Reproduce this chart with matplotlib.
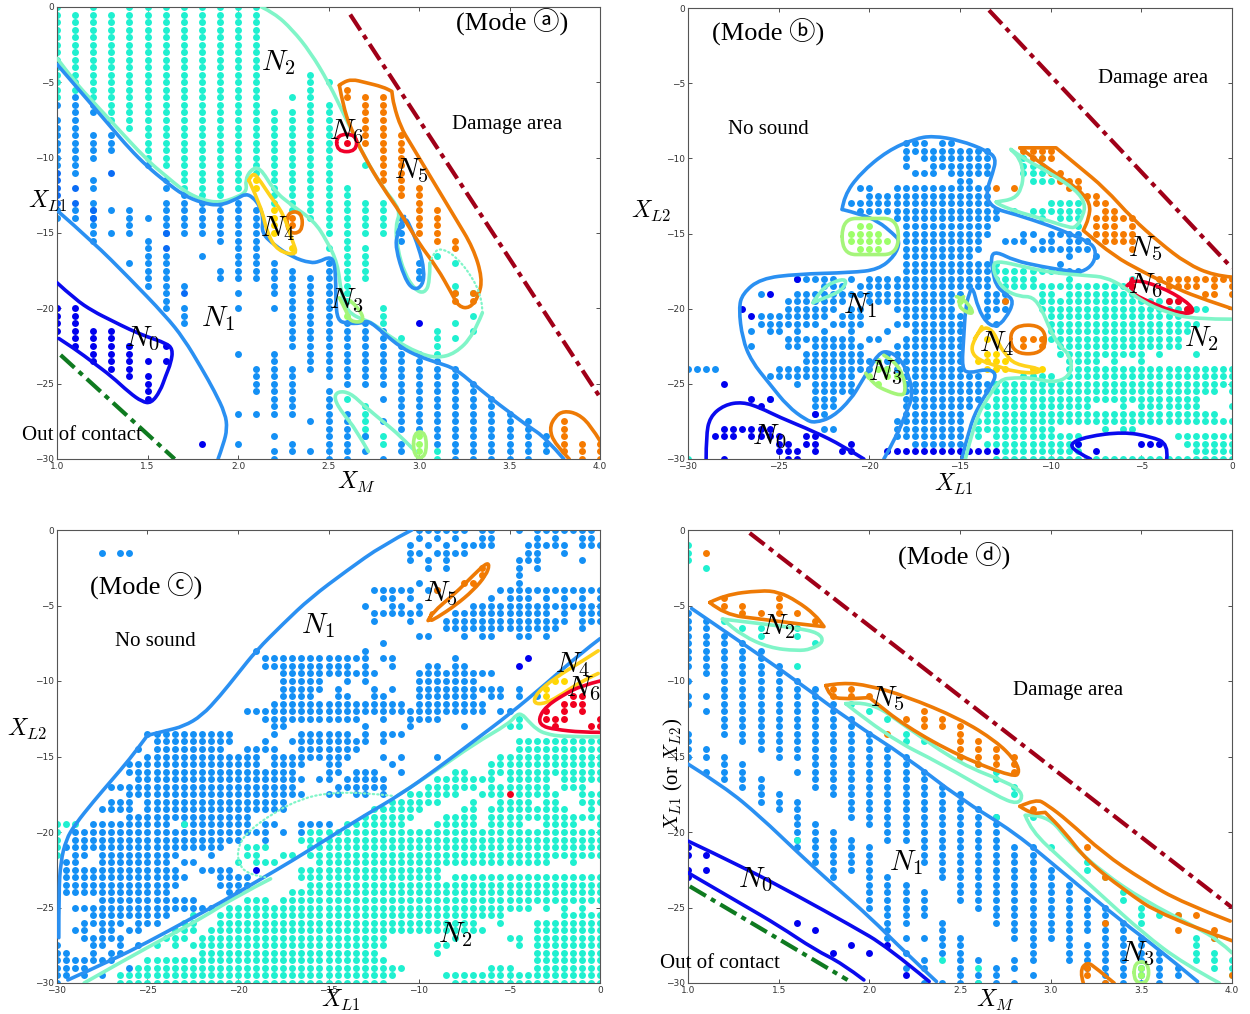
import numpy as np
import matplotlib
matplotlib.use("Agg")
import matplotlib.pyplot as plt
from matplotlib.path import Path
from matplotlib.patches import PathPatch

plt.rcParams['mathtext.fontset'] = 'cm'
SERIF = ['Liberation Serif', 'Noto Sans CJK JP', 'DejaVu Sans']

# dot colours, one per regime
N0, DEEP, N1, N2, N3, N4, N5, N6 = '#0000ee', '#0a6cf5', '#1490f5', '#1ff0d0', '#9dff6a', '#ffd800', '#f57a00', '#f0001e'
# line colours
L0, L1, L2, L3, L4, L5, L6 = '#0a0aee', '#2a90f2', '#80f5c8', '#a5f57a', '#ffd21a', '#ee7a05', '#f0002a'
DAMAGE, CONTACT = '#a00018', '#0f7a20'

# --- dots: {position: [value or (first, last) at step 0.5]} ---
# panel a, keyed by X_M
a_n2 = {1.0: [(0, -6)], 1.1: [(-0.5, -5.5)], 1.2: [(0, -6)], 1.3: [(-0.5, -7.5)], 1.4: [(0, -8)], 1.5: [(0, -10)],
        1.6: [(0, -10.5)], 1.7: [(0, -12)], 1.8: [(0, -12.5)], 1.9: [(0, -12.5)], 2.0: [(0, -12)], 2.1: [(0, -11)],
        2.2: [(-7, -13)], 2.3: [-6, (-7, -13.5)], 2.4: [(-4.5, -14)], 2.5: [-5, (-6.5, -15), -16],
        2.6: [(-12, -17.5), (-18, -19.5), -26], 2.7: [-10.5, (-13, -15), (-16, -18), (-26.5, -28.5)],
        2.8: [-13, -13.5, -14, -14.5, -15, -20, -20.5, -21, -28.5, -29],
        2.9: [-22], 3.1: [-16.5, -21.5, -22, -22.5, -23, -29.5, -30], 3.2: [-17, -18.5, -19, -21, -22], 3.3: [-19, -20.5, -21.5]}
a_n1 = {1.0: [-6.5, (-7.5, -10.5), (-13.5, -14)], 1.1: [(-6, -11), -13.5, -14],
        1.2: [-6.5, -7, (-8.5, -10), -11.5, -12, (-13, -15.5)], 1.3: [-8.5, -9, -9.5, -13.5, -15], 1.4: [-13.5, -14, -14.5, -15, -17],
        1.5: [-10.5, -14, (-15.5, -18.5)], 1.6: [-11.5, -12, (-13, -15), (-16.5, -20)], 1.7: [(-12.5, -15), -18.5, -20, -20.5, -21],
        1.8: [(-13, -15), -16.5], 1.9: [(-13, -15.5), -17.5, -18], 2.0: [(-13, -18), -19, -20, -23, -27, -29],
        2.1: [(-13.5, -18), (-24, -25.5), -27], 2.2: [(-17, -19), -20, (-23, -27), -28.5, -29.5, -30],
        2.3: [-17.5, (-18, -22.5), (-24, -27), -29, -29.5], 2.4: [-18, -18.5, -19, (-19.5, -24), -27.5, -29.5],
        2.5: [(-17, -24.5), (-25.5, -30)], 2.6: [(-21, -25), (-27, -30)], 2.7: [(-21, -25), -28.5, -29.5],
        2.8: [(-21.5, -25), -26, -27.5, -30], 2.9: [(-14, -15.5), (-22.5, -28), -29, -29.5], 3.0: [(-17, -18), (-23, -28), -30],
        3.1: [(-23.5, -29)], 3.2: [(-24, -30)], 3.3: [(-25, -30)], 3.4: [(-26, -30)], 3.5: [(-27, -30)], 3.6: [(-27.5, -30)], 3.7: [(-28.5, -29.5)]}
a_deep = {1.0: [(-11, -13)], 1.1: [-12, -13], 1.2: [-13.5, -14], 1.3: [-11], 1.4: [-22.5], 1.6: [-15, -16], 1.7: [-19]}
a_n0 = {1.0: [(-20, -21.5)], 1.1: [(-20, -22.5)], 1.2: [(-21.5, -23.5)], 1.3: [(-21.5, -24)], 1.4: [(-22.5, -24.5)],
        1.5: [-23.5, -24.5, -25, -25.5, -26], 1.6: [-22.5, -23.5], 1.8: [-29], 3.0: [-21]}
a_n3 = {2.6: [-20.5], 3.0: [-28.5, -29, -29.5, -30]}
a_n4 = {2.1: [-11.5, -12], 2.2: [-13.5, -14, -14.5, -15], 2.3: [-16]}
a_n5 = {2.6: [-5.5, -6], 2.7: [(-6, -8.5), -9], 2.8: [(-6, -8), (-8.5, -11.5)], 2.9: [(-8.5, -12.5)], 3.0: [(-12, -15)],
        3.1: [(-13.5, -15.5)], 3.2: [-15.5, -16, -19, -19.5], 3.3: [-19, -19.5], 2.3: [-14, -14.5],
        3.8: [-27.5, -28, -28.5, -29, -29.5], 3.9: [-29, -29.5, -30], 4.0: [-29, -29.5, -30]}
a_n6 = {2.6: [-9]}

# panel b, keyed by X_L2
b_n1 = {-9: [-18, -17.5, -17, -16, -15.5], -9.5: [(-18, -13.5)], -10: [-18, (-17, -13.5)], -10.5: [-18, (-16.5, -13.5)],
        -11: [-17.5, -17, -16.5, (-15.5, -13.5)], -11.5: [-15, -14.5], -12: [-20.5, -20, (-18.5, -13.5)], -12.5: [(-20, -13.5)],
        -13: [(-21, -13.5)], -13.5: [(-20.5, -13)], -14: [(-18.5, -13)], -14.5: [(-18, -13.5)],
        -15: [(-18, -13.5), -11.5, -11, -10, -9.5, -9, -8.5], -15.5: [(-18, -14), -12.5, -12, -11.5, -10.5, -10, -9, -8.5, -8],
        -16: [(-18, -14), -11, -10.5, (-10, -8)], -16.5: [(-18, -14.5), -9, -7.5], -17: [(-18, -13.5), -9.5],
        -17.5: [(-18, -13.5), -9.5, -9, -8.5], -18: [-24, -23.5, -23, -22.5, -22, -21, (-20, -13.5)],
        -18.5: [-22.5, -22, -21.5, (-20.5, -13.5)], -19: [-26, -24, -23.5, (-23, -21), (-20.5, -15), (-13.5, -12.5)],
        -19.5: [(-24.5, -21.5), (-20, -15.5), -13.5, -13, -12.5], -20: [-24.5, (-24, -22), (-21, -20.5), (-18.5, -15.5), -13.5, -13, -12.5],
        -20.5: [-26, (-25.5, -22.5), (-21.5, -20.5), (-18, -15), -13.5],
        -21: [(-26, -23), (-22, -20.5), (-18.5, -15), -13], -21.5: [-26.5, -25.5, -25, -24, -22.5, -21, -19, (-17.5, -15)],
        -22: [(-24.5, -23.5), -23, (-22.5, -21), -20, -19.5, (-18, -15)], -22.5: [-26.5, -24.5, -24, (-23, -20.5), (-18.5, -15)],
        -23: [(-23.5, -20.5), (-19, -15)], -23.5: [(-23.5, -20), -19, (-18.5, -15)],
        -24: [-30, -29.5, -29, -28.5, -25, -24.5, (-24, -21), (-20.5, -20), -19, (-18.5, -15)],
        -24.5: [-25.5, -25, -24.5, (-24, -21.5), -21, (-18, -14)], -25: [-24, -23, (-22.5, -21), (-18, -13.5)],
        -25.5: [(-23, -21.5), -21, (-18, -13.5)], -26: [-25.5, (-23, -22), (-18, -14)], -26.5: [(-23, -22), (-18, -14.5)],
        -27: [-23, -22.5, (-18, -15)], -27.5: [(-18.5, -15)], -28: [-22.5, -22, (-18.5, -15)], -28.5: [(-18.5, -15)],
        -29: [-17.5, -17, -16.5, (-16, -15)]}
b_n2 = {-10: [-11.5, -10.5], -10.5: [-11.5, -11, -10.5], -11: [-11.5, -11, -10.5], -11.5: [-11, -10.5, -10],
        -13: [-10, -9.5, -9, -8.5], -13.5: [-12, (-11, -8.5)], -14: [-10.5, -9.5, -9, -8.5], -14.5: [-8.5],
        -17: [-13], -17.5: [(-13, -9.5)], -18: [(-13, -11), -9, -5.5], -18.5: [-12.5, -12, -11.5, (-11, -6)],
        -19: [-10.5, -10, (-9, -5.5)], -19.5: [(-10.5, -3)], -20: [(-10.5, -1.5)], -20.5: [(-10, -3)], -21: [(-10, -2)],
        -21.5: [(-10, -2.5)], -22: [(-10, -3)], -22.5: [(-9.5, -3)], -23: [(-9.5, -5), -4, -2],
        -23.5: [(-9, -8), -7.5, -6.5, -5], -24: [(-9, 0)], -24.5: [(-11.5, -10), (-9, 0)], -25: [(-13, 0)],
        -25.5: [(-13, -1), 0], -26: [(-13, -2)], -26.5: [(-13.5, -8), -6, (-5, -2), 0], -27: [(-13.5, -9), (-8.5, -6), (-5.5, -1)],
        -27.5: [(-14, -3), (-2.5, 0)], -28: [(-14, -10), -7, -6, -5.5], -28.5: [-14, -13, (-12.5, -8.5), (-3, 0)],
        -29: [-13.5, -13, (-12.5, -8.5), -2.5, (-2, 0)], -29.5: [(-12.5, -8.5), -2, (-1.5, 0)], -30: [-30, (-13, -8), (-7.5, 0)]}
b_n0 = {-18: [-24], -19: [-25.5], -20: [-27], -20.5: [-26.5], -25: [-28], -26: [-26.5, -25.5], -26.5: [-26], -27: [-23],
        -28: [(-28, -25.5)], -28.5: [(-28.5, -27.5), (-26.5, -25), -23.5, -23], -29: [-25, -24.5, -23.5, -23, -21, -8.5, -5, -4.5, -4],
        -29.5: [(-25, -24), -23, -21.5, -21, -7.5, (-19, -13)], -30: [-28, -24.5, -24]}
b_n3 = {-14.5: [-20.5, -20], -15: [-21, (-20.5, -19.5)], -15.5: [(-21, -19)], -16: [-20.5, -20, -19.5], -19.5: [-15], -20: [-14.5],
        -23.5: [-19.5], -24: [-19.5, -19], -24.5: [-20, -19, -18.5], -25: [-19.5]}
b_n4 = {-22: [-13.5], -23: [-13.5, -13], -23.5: [(-14, -12.5)], -24: [-13.5, -13, -12.5, -11, -10.5]}
b_n5 = {-9.5: [-11.5, -11, -10.5, -10], -10: [-11, -10.5, -10], -11: [-10, -9.5], -11.5: [-9.5, -9, -8.5],
        -12: [-13, -12, -9, -8.5], -12.5: [-8, -7.5], -13: [-7.5, -7], -13.5: [-7, -6.5], -14: [-7.5, -7, -6.5, -6, -5.5],
        -14.5: [-7.5, -7, -6.5, -5.5], -15: [(-7.5, -5.5)], -15.5: [-7, -6.5, -6, -5.5], -16: [-5.5], -18: [(-4, 0)],
        -18.5: [-3.5, -3, -2.5, -2, -1, 0], -19: [-1.5, -1, 0], -19.5: [-12.5], -22: [-11.5, -11, -10.5], -22.5: [-11.5, -10.5]}
b_n6 = {-18.5: [-5.5], -19.5: [-3.5, -3], -20: [-2.5]}

# panel c, keyed by X_L2
c_n1 = {0: [(-10, -8), -7.5, -6.5, -6, -4.5, (-3.5, -1), -0.5], -0.5: [-10, -9, -8, -6.5, -6, -3.5, -2.5, -1, -0.5],
        -1: [-10.5, -9.5, -8.5, -7.5, -7, -6.5, -6, -4, -3.5, -3, -2.5, -2, -1, -0.5, 0],
        -1.5: [-27.5, -26.5, -26, -10.5, -10, -9, -8.5, -8, -7.5, -4, -3.5, -2], -2: [-10.5, -9.5, -8.5, -4.5, -4, -3.5, -1],
        -2.5: [-9.5, -8.5, -4.5, -3.5], -3: [-4.5], -3.5: [-10, -4.5], -4: [(-12.5, -10.5), -9.5, -9, (-5.5, 0)],
        -4.5: [-12, -11.5, -10.5, -6, -5, -4.5, -4, -3, -2, -1, 0], -5: [-13, -11.5, -11, -10, (-7, -0.5), 0],
        -5.5: [(-12.5, -10), (-8, -6.5), (-6, -3), -2, -1, -0.5, 0], -6: [-12.5, -10.5, (-8.5, -7), (-6.5, -2), -1, -0.5, 0],
        -6.5: [-8.5, -8, -7.5, (-7, -5), (-4.5, -3), -2.5, -1], -7: [-10, -9.5, -7.5, -6.5, -6, -4.5, -4, -3], -7.5: [-12],
        -8: [-19, -13], -8.5: [(-18.5, -13.5), -13, -12, -11.5, -8], -9: [-18.5, -18, (-17.5, -14), -13, -11.5, -9.5, -9, -8, -7.5],
        -9.5: [(-17.5, -13), -12.5, (-10, -6)], -10: [(-17.5, -15.5), -14, -13, (-10, -7)], -10.5: [(-17.5, -15.5), -14.5, -12.5, -11.5, (-10, -7), -6.5, -6, -5.5, -4.5],
        -11: [(-17.5, -16), -14.5, -14, -12.5, -12, (-10, -7), -6, -5.5, -4.5, -3.5], -11.5: [-18, -17.5, (-17, -13), (-12.5, -11), (-10, -7), -6.5],
        -12: [-19.5, -19, (-18.5, -13), (-12.5, -11), (-10.5, -6.5), -5.5, -5], -12.5: [-18.5, (-18, -15), (-14.5, -13.5), -12, -10.5, (-10, -9)],
        -13: [-18, -17.5, -13, -10.5, -7.5], -13.5: [(-25, -20.5), -18, (-16.5, -14), -13, -12, -11.5, -11],
        -14: [(-24.5, -20.5), -18.5, (-17, -13), -12], -14.5: [-25.5, (-24.5, -21), (-19.5, -18), (-16.5, -13.5)],
        -15: [(-25, -19), (-18, -14), -12, -11, -9], -15.5: [(-26, -19), (-18, -16.5), -15, -14.5, -11.5],
        -16: [(-26, -17), -15, -14.5, (-13.5, -12.5), -11], -16.5: [(-25.5, -16.5), -15.5, -15, (-14, -12)],
        -17: [(-27, -26.5), (-26, -17), (-14.5, -13), -12.5, -12], -17.5: [-26, (-25.5, -16.5), (-15, -14.5), -13.5, -13, -12],
        -18: [(-27, -26), (-25, -17.5)], -18.5: [(-27.5, -26), (-25, -17.5)], -19: [-26, (-25.5, -19.5)],
        -19.5: [(-28, -24), (-23, -19.5), -18.5, -18, -16.5, -16, -15.5, -15], -20: [(-29, -18.5), -17.5, -16.5],
        -20.5: [(-29, -20), -18.5], -21: [-29.5, (-29, -21)], -21.5: [-29, -28.5, (-27.5, -23.5), -21.5], -22: [-29.5, -29, (-27.5, -24), -23, -22.5],
        -22.5: [(-29.5, -23.5), -22, -21.5, -21, -20.5], -23: [(-29.5, -23), -21, -20.5, -20, -19.5],
        -23.5: [(-29.5, -23.5), -21, -20.5, -20, -19.5], -24: [(-29.5, -24), -20.5, -20], -24.5: [(-27.5, -22.5)],
        -25: [-29, -28.5, (-28, -21.5)], -25.5: [(-28, -24)], -26: [(-28.5, -26.5), -25.5, -25, -24.5], -26.5: [-29, -28.5, -27.5, -27, -26, -25.5],
        -27: [(-28.5, -26.5)], -27.5: [-30, -28, -27.5, -26.5, -25.5], -28: [-30, -29.5, -28, -27, -26.5], -28.5: [(-30, -27)],
        -29: [(-30, -28.5), -26], -29.5: [-30, -29.5, -28.5, -27.5], -30: [-30]}
c_n2 = {-12.5: [-4.5], -13: [-5, -4.5], -14: [(-4.5, 0)], -14.5: [(-4.5, 0)], -15: [-5.5, -5, (-4.5, 0)], -15.5: [(-6, -3), (-2.5, 0)],
        -16: [-8, -7.5, (-6, -3.5), (-3, -1), -0.5, 0], -16.5: [(-9, -7), -6.5, -6, (-5, -3), (-2, 0)],
        -17: [(-9.5, -8), -7.5, -7, (-6, -3), -2, -1.5, -1], -17.5: [(-10.5, -8), (-6.5, -5.5), (-4.5, -2.5), -1, -0.5, 0],
        -18: [(-11.5, -9), -7, (-5.5, -4), -3, -2.5, (-1, 0)], -18.5: [(-12.5, -10), -7.5, -7, (-6, -2), -0.5],
        -19: [(-13, -10.5), (-8.5, -7), (-6, -3), (-2.5, -1), -0.5, 0], -19.5: [-30, -29.5, -29, -23, (-14, -11), (-9, -7), (-6, -4.5), (-3, -1.5), 0],
        -20: [-30, (-16, 0)], -20.5: [-30, (-16.5, 0)], -21: [-30, -19.5, -19, -18.5, (-16, 0)], -21.5: [-30, -19.5, -19, -17.5, -17, (-16, 0)],
        -22: [-20, -19, -18.5, -18, (-15.5, -3.5), -3, -1.5], -22.5: [(-16.5, -9)], -23: [(-16.5, -9), (-8, 0)], -23.5: [(-16, 0)],
        -24: [(-17, 0)], -24.5: [-19.5, -19, -18.5, (-17.5, 0)], -25: [(-20.5, -4), -3, -2, -1], -25.5: [-22.5, (-21, -5.5), (-2, 0)],
        -26: [-23, -22.5, (-21, -7), -5.5, (-3.5, 0)], -26.5: [-23.5, -23, -22.5, (-21.5, -6.5), (-3.5, 0)], -27: [(-24, -23), (-22, -12), -8, -5, -4.5, (-3.5, 0)],
        -27.5: [-24.5, -23.5, -22.5, (-22, -12), -9, -8.5, -4.5, (-3.5, 0)], -28: [(-22, -12.5), -9, (-3.5, 0)], -28.5: [(-25, -12), (-3.5, 0)],
        -29: [(-25.5, -11), (-6, -5), (-3.5, 0)], -29.5: [(-26.5, -11.5), (-8.5, 0)], -30: [(-26.5, -12), (-8, -3), (-2.5, 0)]}
c_n0 = {-9: [-4.5], -8.5: [-4], -22.5: [-19]}
c_n4 = {-10: [-2.5, -2], -10.5: [-3], -11: [-3]}
c_n5 = {-2.5: [-6.5], -3: [-6.5], -3.5: [-7.5, -7], -4: [-9]}
c_n6 = {-11: [-1.5, -1], -11.5: [-2, -1.5, -1], -12: [-3, -2, -1], -12.5: [-3, -2.5, -2, 0], -13: [-2.5, -0.5, 0], -17.5: [-5]}

# panel d, keyed by X_M
d_n1 = {1.0: [(-5.5, -9), -10, -11, -11.5, (-13.5, -15)], 1.1: [(-6, -9.5), -11, -12, -14.5, -15, -16],
        1.2: [(-7, -13.5), (-15, -16.5)], 1.3: [(-7.5, -14), (-15.5, -17)], 1.4: [(-8, -14.5), (-16.5, -18)],
        1.5: [(-9, -15), -17.5, -18, -18.5], 1.6: [(-10, -15), -16, (-18, -21)], 1.7: [(-10.5, -17), (-19.5, -22)],
        1.8: [(-11.5, -17.5), (-20, -23)], 1.9: [(-12.5, -19), (-20.5, -22.5)], 2.0: [(-13.5, -19.5), (-21, -25)],
        2.1: [(-14.5, -20.5), (-23, -27)], 2.2: [(-15, -20.5), (-23.5, -26), -27, -28, -29], 2.3: [(-16, -22), (-24, -25.5), -27, -28.5, -29, -30],
        2.4: [(-17, -23), (-26, -28), -30], 2.5: [(-17.5, -24.5), (-27, -30)], 2.6: [(-18.5, -25), -28.5, -29.5, -30],
        2.7: [(-19, -26), -29, -29.5, -30], 2.8: [(-21, -27), -28.5, -29, -30], 2.9: [(-21, -28.5), -29.5], 3.0: [(-22.5, -27)],
        3.1: [(-23.5, -28.5)], 3.2: [(-24.5, -26.5), (-27.5, -29)], 3.3: [(-25, -30)], 3.4: [(-26, -30)], 3.5: [(-27, -30)],
        3.6: [(-28, -30)], 3.7: [-29, -29.5]}
d_n0 = {1.0: [-21, -21.5, -22.5, -23], 1.1: [-21.5, -22.5], 1.6: [-26], 1.7: [-26.5], 1.8: [-28], 1.9: [-27.5], 2.0: [-28], 2.1: [-27.5], 2.2: [-29.5]}
d_n2 = {1.0: [-1, -1.5, -2], 1.1: [-2.5], 1.2: [-6], 1.3: [-6.5], 1.4: [-6.5, -7], 1.6: [-6.5, -7, -9, -20.5], 1.7: [-7.5], 1.9: [-11.5],
        2.0: [-12], 2.1: [-12.5], 2.2: [-13.5, -14], 2.3: [-14], 2.4: [-28.5], 2.5: [-15], 2.6: [-15.5, -29, -30], 2.7: [-16, -16.5, -19], 2.8: [-17, -17.5],
        2.9: [-19], 3.0: [-21], 3.2: [-22, -22.5], 3.3: [-23], 3.4: [-24, -24.5], 3.5: [-25, -25.5, -26], 3.6: [-25.5], 3.7: [-25.5], 3.8: [(-27, -28.5)],
        3.9: [-27, -28, -28.5, -29], 4.0: [-28.5, -29, -29.5]}
d_n3 = {3.5: [-29, -29.5]}
d_n5 = {1.1: [-1.5], 1.2: [-4.5, -5], 1.3: [-5, -5.5], 1.4: [-5.5], 1.5: [-4.5, -5, -5.5], 1.6: [-5.5], 1.7: [-6],
        1.8: [-10.5, -11], 1.9: [-10.5, -11], 2.0: [-11], 2.1: [-13.5], 2.2: [-12.5], 2.3: [-12, -12.5, -13], 2.4: [-12.5, -13],
        2.5: [-13, -13.5, -14, -14.5, -15], 2.6: [-14, -14.5, -15, -15.5], 2.7: [-14.5, -15, -15.5], 2.8: [-15, -15.5, -16],
        2.9: [-18.5], 3.2: [-21, -29, -29.5], 3.3: [-23, -26, -30], 3.7: [-25.5, -26.5], 3.8: [-25.5], 3.9: [-26.5, -27], 4.0: [-29.5]}

a_curves = [
    (L2, [1.0, 1.1, 1.2, 1.3, 1.5, 1.6, 1.7, 1.8, 1.9, 2.0, 2.05, 2.04, 2.07, 2.12, 2.2, 2.29, 2.42, 2.49, 2.55, 2.57, 2.6, 2.63, 2.68, 2.75, 2.85, 3.0, 3.1, 3.2, 3.3, 3.35],
     [-3.4, -5, -6.3, -7.6, -10.2, -11.2, -12.2, -12.8, -13, -12.6, -12.2, -11.5, -10.8, -10.6, -12.2, -13.1, -14.2, -15.5, -17, -19, -20, -20.4, -20.7, -21, -22, -23, -23.3, -23, -21.8, -20.3]),
    (L2, [2.13, 2.2, 2.3, 2.4, 2.5, 2.6, 2.7, 2.8, 2.9, 2.87, 2.88, 2.92, 2.98, 3.03, 3.06, 3.06],
     [0, -0.4, -1.5, -3, -5, -7.5, -10, -12, -13.5, -14.5, -16, -17.7, -18.8, -19, -18.3, -17]),
    (L2, [2.72, 2.65, 2.58, 2.53, 2.55, 2.62, 2.7, 2.8, 2.9, 2.98], [-29.5, -28, -27, -26, -25.5, -25.6, -26.5, -27.5, -28.5, -29.5]),
    (L1, [1.0, 1.1, 1.2, 1.3, 1.4, 1.5, 1.6, 1.7, 1.8, 1.9, 2.0, 2.04, 2.08, 2.12, 2.14, 2.13, 2.2, 2.3, 2.4, 2.45, 2.5, 2.53, 2.54, 2.54, 2.55, 2.6, 2.68, 2.72, 2.8, 2.9, 3.0, 3.1, 3.2, 3.3, 3.4, 3.5, 3.6, 3.7, 3.8],
     [-3.8, -5.2, -6.6, -8, -9.4, -10.6, -11.6, -12.5, -13, -13.2, -12.7, -12.4, -12.6, -13.2, -14, -15, -15.8, -16.6, -17, -16.9, -16.6, -16.8, -18, -19.5, -20.8, -21, -21, -20.8, -21.6, -22.6, -23.2, -23.6, -24, -25, -26, -26.9, -27.8, -28.6, -30]),
    (L1, [1.0, 1.2, 1.4, 1.6, 1.7, 1.8, 1.87, 1.93, 1.94, 1.92, 1.89], [-13.5, -15.6, -18, -20.5, -22, -24, -25.5, -27, -28, -29, -30]),
    (L1, [2.88, 2.92, 2.95, 3.0, 3.03, 3.02, 2.97, 2.92, 2.87, 2.88, 2.92], [-15, -13.9, -14.5, -16, -17.5, -18.5, -18.8, -18, -16, -15, -13.9]),
    (L0, [1.0, 1.1, 1.2, 1.3, 1.4, 1.5, 1.6, 1.64, 1.63, 1.6, 1.57, 1.52, 1.47, 1.4, 1.3, 1.2, 1.1, 1.01],
     [-18.3, -19.4, -20.2, -20.8, -21.4, -21.9, -22.3, -22.7, -23.6, -24.5, -25.5, -26.3, -26.2, -25.6, -24.5, -23.6, -22.7, -22]),
    (L5, [2.56, 2.58, 2.63, 2.7, 2.8, 2.85, 2.85, 2.86, 2.9, 2.95, 3.0, 3.1, 3.2, 3.3, 3.35, 3.33, 3.28, 3.22, 3.18, 3.1, 3.0, 2.9, 2.8, 2.7, 2.62, 2.58, 2.56],
     [-5.2, -5, -4.8, -5, -5.3, -5.6, -5.6, -6.5, -8, -9, -10, -12, -14, -16, -18, -19.2, -20, -19.9, -19, -17.3, -15.7, -13.7, -12, -10, -8, -6.5, -5.2]),
    (L5, [4.0, 3.95, 3.88, 3.8, 3.75, 3.72, 3.75, 3.83], [-28.8, -27.8, -27, -26.8, -27.2, -28, -29, -30]),
    (L5, [2.27, 2.27, 2.355, 2.355, 2.27, 2.27], [-14.3, -13.6, -13.6, -15, -15, -14.3]),
    (L6, [2.545, 2.545, 2.655, 2.655, 2.545, 2.545], [-9, -8.45, -8.45, -9.6, -9.6, -9]),
    (L4, [2.06, 2.13, 2.16, 2.22, 2.33, 2.3, 2.25, 2.18, 2.11, 2.08, 2.06], [-11.5, -13.3, -15, -16.2, -16.5, -15.5, -13.7, -12.6, -11.3, -11, -11.5]),
    (L3, [2.56, 2.6, 2.62, 2.7, 2.67, 2.62], [-19.3, -20.2, -20.9, -20.9, -20, -19.5]),
    (L3, [2.97, 2.97, 3.04, 3.04, 2.97, 2.97], [-29, -28.2, -28.2, -29.9, -29.9, -29]),
]
a_dotted = ([3.06, 3.08, 3.12, 3.2, 3.3, 3.35, 3.35], [-17, -16.3, -16, -16.5, -18, -19.5, -20.3])
a_damage = ([2.62, 4.0], [-0.5, -25.9])
a_contact = ([1.02, 1.65], [-23.1, -30])

b_curves = [
    (L1, [-21.5, -21.4, -20.5, -19, -17.5, -16.5, -15, -13.5, -13, -13.2, -13.5, -13.5, -13, -12, -10, -9, -8, -7.5, -7.6, -8.3, -9, -10.5, -12, -13, -13.3, -13.2, -13, -12.5, -12, -12.5, -13, -13.5, -14, -14.3, -14.5, -14.7, -14.8, -14.9, -14.5, -13.5, -13, -13.2, -14, -14.5, -14.9],
     [-13.4, -12.5, -11, -9.5, -8.7, -8.5, -8.8, -9.5, -10, -11, -12, -12.8, -13.4, -13.7, -14.5, -15, -15.5, -16, -17, -17.6, -17.5, -17.2, -16.8, -16.2, -16.5, -17.5, -18.5, -19, -19.5, -20.7, -21.2, -21, -20, -18.5, -19, -20, -22, -24, -24.3, -24, -24.3, -25, -26.5, -28, -30]),
    (L1, [-21.5, -20.5, -19.5, -18.7, -18.3, -18.6, -19.5, -21, -24, -26, -27, -27.2, -27, -26.5, -25.5, -24.5, -23.5, -23, -22, -21, -20.5, -20, -19.5, -19, -18.3, -17.8, -17.6, -18, -18.5, -19.2],
     [-13.4, -13.7, -14.2, -15, -15.5, -16.5, -17.4, -17.6, -17.7, -18, -19, -20, -22, -23.5, -25, -26.5, -27.4, -27.6, -27.2, -26, -25, -24, -23, -22.8, -23.3, -24.5, -25.8, -27, -28.5, -30]),
    (L0, [-29, -29, -28.8, -28, -27, -26, -25, -23, -21.5, -20.3], [-30, -28.5, -27.2, -26.4, -26.2, -26.6, -27.2, -28.2, -29.1, -30]),
    (L0, [-7.8, -8.5, -9, -8, -6, -4.5, -3.5, -3.6], [-30, -29.6, -29, -28.5, -28.2, -28.5, -29, -30]),
    (L5, [-11.7, -9.7, -9.7, -8.5, -7, -5.5, -4, -2.5, -1, 0], [-9.3, -9.3, -9.3, -10.5, -12, -14, -15.6, -17, -17.8, -17.9]),
    (L5, [0, -1.5, -3, -5, -6.5, -8.2, -8.2, -7.9, -7.8, -8.5, -10, -11.7], [-20, -19.4, -18.7, -17.5, -16.5, -14.8, -14.8, -14, -13, -12, -10.8, -9.3]),
    (L6, [-5.8, -5.5, -4, -2.5, -2, -3, -4.5, -5.8, -5.5], [-18.5, -18, -18.5, -19.5, -20.3, -20.3, -19.6, -18.8, -18]),
    (L2, [-13, -13, -12, -11.6, -11.5, -11.7, -12.2, -12.2, -11.5, -10, -8.6, -8.1, -8.2, -8.6, -9, -10.5, -12, -13, -13],
     [-12.9, -12.9, -12.7, -12, -11, -10, -9.4, -9.4, -10, -11, -12.1, -13, -13.8, -14.6, -14.6, -14, -13.5, -13, -12.9]),
    (L2, [0, -2, -3.5, -5, -6, -7, -8, -10, -11.5, -13, -13.2, -13, -12.5, -11.7, -11, -10.5, -10, -9.5, -9, -8.8, -9.2, -10, -11, -12, -12.8, -13.5, -14, -14.5, -14.7],
     [-20.7, -20.7, -20.3, -19.5, -18.5, -17.9, -17.8, -17.6, -17.2, -16.8, -17.2, -18, -18.8, -19.2, -19.2, -20, -21.5, -22.5, -23, -24, -24.7, -24.9, -24.6, -24.6, -24.7, -26, -27, -29, -30]),
    (L2, [-23.1, -22.7, -22, -21.2, -21.5, -22.5, -23.1], [-19.6, -18.8, -18.2, -18, -18.8, -19.3, -19.6]),
    (L3, [-20.2, -19.8, -19, -18.2, -18, -18.1, -18.6, -19.2], [-24.3, -25, -25.5, -25.8, -25.5, -24.5, -23.5, -23.1]),
    (L3, [-21.5, -21.5, -20, -18.4, -18.4, -20, -21.5, -21.5], [-15.2, -14, -14, -14, -16.4, -16.4, -16.4, -15.2]),
    (L3, [-15.2, -14.8, -14.2, -14.6, -15.2, -14.8], [-19.2, -19.3, -20.3, -20.3, -19.7, -19.2]),
    (L4, [-14.2, -13.8, -13.2, -12.8, -12.5, -12, -10.5, -10.7, -12, -13, -14, -14.4, -14.2, -13.8], [-22, -21.2, -21.4, -22.5, -23, -23.7, -24, -24.3, -24.2, -23.8, -23.4, -22.8, -22, -21.2]),
    (L5, [-12.2, -12.2, -10.3, -10.3, -12.2, -12.2], [-22, -21.1, -21.1, -23, -23, -22]),
]
b_damage = ([-13.4, 0], [-0.15, -17.3])

c_curves = [
    (L2, [-28.5, -26, -24, -22, -20, -18.2], [-30, -28.3, -27, -25.7, -24.2, -23.1]),
    (L2, [-11.2, -9, -7, -5, -4.6, -4.3, -4, -3.5, -3, -2, 0], [-17.6, -15.9, -14.2, -12.8, -12.2, -12.2, -12.6, -13.2, -13.5, -13.7, -13.7]),
    (L1, [-29.9, -29.9, -29.8, -29.5, -29, -28, -27, -26, -25, -25, -24, -23, -22, -21, -20, -19, -17.5, -16, -14, -12, -10.4],
     [-27, -24, -22, -20.5, -19.5, -18, -16.6, -15.2, -13.6, -13.6, -13.3, -13, -12.3, -11, -9.5, -8, -6.2, -4.5, -2.7, -1, 0]),
    (L1, [-29.4, -27, -25, -23, -21, -19, -17, -15, -13, -11, -9, -7, -5, -3, -1, 0], [-29.8, -28.5, -27.3, -26, -24.7, -23.3, -21.9, -20.4, -18.9, -17.5, -15.8, -14, -12.2, -10.2, -8.1, -7.2]),
    (L5, [-9.5, -9.3, -8, -7, -6.3, -6.1, -6.3, -7, -8, -9, -9.5, -9.3], [-6, -5.5, -4.2, -3, -2.2, -2.3, -3, -4, -5, -5.8, -6.1, -5.5]),
    (L4, [-0.1, -1, -2.5, -3.5, -3.7, -3, -2, -1, -0.1], [-8, -8.7, -9.8, -10.8, -11.5, -11.5, -10.8, -10, -9.5]),
    (L6, [0, -1, -2, -3, -3.4, -3.2, -2.5, -1, 0], [-10, -10.3, -10.9, -11.7, -12.5, -13, -13.2, -13.4, -13.4]),
]
c_dotted = ([-11.5, -13, -15, -16.5, -18, -19.5, -20, -20, -19.5, -18.5], [-17.6, -17.4, -17.4, -17.8, -18.7, -20, -21, -22, -22.8, -23])

d_curves = [
    (L0, [1, 1.3, 1.6, 1.9, 2.1, 2.33], [-20.6, -22.3, -24.2, -26.2, -27.6, -29.9]),
    (L0, [1, 1.3, 1.5, 1.7, 1.85, 1.97], [-22.7, -24.8, -26.2, -27.8, -28.7, -29.8]),
    (L1, [1.02, 1.3, 1.6, 1.9, 2.2, 2.5, 2.8, 3.1, 3.4, 3.6, 3.81], [-5.2, -7.5, -10, -12.7, -15, -17.8, -20, -23, -26, -27.8, -29.9]),
    (L1, [1, 1.2, 1.4, 1.6, 1.8, 2.0, 2.2, 2.37], [-15.5, -17, -19, -21.3, -23.5, -25.6, -28, -29.9]),
    (L2, [1.19, 1.4, 1.6, 1.72, 1.75, 1.68, 1.6, 1.45, 1.3, 1.19, 1.19], [-5.9, -6.2, -6.5, -6.8, -7.4, -7.9, -8, -7.8, -7, -5.9, -5.9]),
    (L2, [1.87, 2, 2.2, 2.5, 2.78, 2.85, 2.82, 2.7, 2.4, 2.1, 1.87], [-11.5, -11.3, -13, -15.5, -16.8, -17.5, -18.2, -17.6, -15.5, -13.7, -11.5]),
    (L2, [2.86, 2.98, 3.11, 3.29, 3.51, 3.8, 3.93, 4], [-18.9, -18.8, -20.8, -22.7, -24.5, -26.3, -27.2, -28]),
    (L2, [2.86, 2.89, 3.07, 3.29, 3.51, 3.73, 3.93], [-18.9, -19.9, -21.9, -24.3, -26.7, -28.7, -30]),
    (L5, [1.12, 1.2, 1.4, 1.5, 1.6, 1.7, 1.75, 1.75, 1.6, 1.4, 1.2, 1.12], [-4.8, -4.3, -4, -4.1, -4.7, -5.6, -6.4, -6.4, -6.2, -5.9, -5.6, -4.8]),
    (L5, [1.76, 1.85, 2.0, 2.2, 2.5, 2.7, 2.8, 2.83, 2.8, 2.5, 2.2, 2.0, 2.0, 1.85, 1.78, 1.76], [-10.3, -10.1, -10.3, -11, -12.5, -14, -15.2, -16, -16.4, -15, -13, -11.1, -11.1, -11.2, -11, -10.3]),
    (L5, [2.83, 2.92, 2.98, 3.09, 3.29, 3.51, 3.73, 3.99], [-18.3, -17.8, -18.2, -19.2, -21.4, -23.2, -24.7, -25.9]),
    (L5, [2.83, 2.89, 2.97, 2.97, 3.07, 3.2, 3.4, 3.62, 4], [-18.3, -18.8, -18.7, -18.7, -19.9, -21.9, -23.8, -25.6, -27.2]),
    (L5, [3.18, 3.16, 3.2, 3.25, 3.35], [-30, -29.2, -28.6, -29, -30]),
    (L3, [3.46, 3.46, 3.54, 3.54, 3.46, 3.46], [-29.3, -28.6, -28.6, -30, -30, -29.3]),
]
d_damage = ([1.34, 4.0], [-0.2, -25])
d_contact = ([1.01, 1.88], [-23.6, -29.8])

W, H = 1250.0, 1014.0


def expand(runs):
    # {pos: [v or (first, last)]} -> two arrays of grid points
    ps, vs = [], []
    for pos, items in runs.items():
        for it in items:
            lo, hi = it if isinstance(it, tuple) else (it, it)
            sign = 1 if hi >= lo else -1
            for v in np.arange(lo, hi + sign * 0.25, sign * 0.5):
                ps.append(pos)
                vs.append(v)
    return np.array(ps), np.array(vs)


def smooth(ax, xs, ys, color, lw=2.6, ls='-'):
    # quadratic beziers with the read points as control points
    pts = np.column_stack([xs, ys])
    verts, codes = [pts[0]], [Path.MOVETO]
    for i in range(1, len(pts) - 1):
        verts += [pts[i], (pts[i] + pts[i + 1]) / 2 if i < len(pts) - 2 else pts[i + 1]]
        codes += [Path.CURVE3, Path.CURVE3]
    ax.add_patch(PathPatch(Path(verts, codes), fill=False, edgecolor=color, lw=lw, ls=ls, capstyle='round', joinstyle='round', zorder=3))


def new_axes(px, xlim, xticks, xfmt):
    l, t, r, b = px
    ax = fig.add_axes([l / W, 1 - b / H, (r - l) / W, (b - t) / H])
    ax.set_xlim(*xlim)
    ax.set_ylim(-30, 0)
    ax.set_xticks(xticks)
    ax.set_xticklabels([(xfmt % v).replace('-', '\u2212') for v in xticks])
    ax.set_yticks(np.arange(-30, 1, 5))
    ax.tick_params(direction='in', top=True, right=True, labelsize=6.5, length=3, width=0.6, pad=2, colors='#333333')
    for s in ax.spines.values():
        s.set_linewidth(0.8)
        s.set_color('#555555')
    return ax


def dots(ax, runs, color, by_x=True):
    p, v = expand(runs)
    if by_x:
        ax.scatter(p, v, s=25, c=color, linewidths=0, zorder=2)
    else:
        ax.scatter(v, p, s=25, c=color, linewidths=0, zorder=2)


def boundary(ax, xy, color):
    ax.plot(xy[0], xy[1], color=color, lw=3.0, dashes=(4.5, 1.4, 1.2, 1.4), zorder=3)


def label(ax, x, y, s, size=21):
    ax.text(x, y, s, fontsize=size, ha='center', va='center', zorder=5, color='black')


def note(px, py, s, size=15, rotation=0):
    fig.text(px / W, 1 - py / H, s, fontsize=size, ha='center', va='center', family=SERIF, rotation=rotation, zorder=10)


fig = plt.figure(figsize=(12.5, 10.14), dpi=100)
fig.patch.set_facecolor('white')

tx = np.arange(1.0, 4.01, 0.5)
tl = np.arange(-30, 1, 5)

# panel a
ax = new_axes((57, 7, 600, 459), (1, 4), tx, '%.1f')
for runs, col in [(a_n2, N2), (a_n1, N1), (a_deep, DEEP), (a_n0, N0), (a_n3, N3), (a_n4, N4), (a_n5, N5), (a_n6, N6)]:
    dots(ax, runs, col)
for col, xs, ys in a_curves:
    smooth(ax, xs, ys, col)
smooth(ax, a_dotted[0], a_dotted[1], L2, lw=1.6, ls=(0, (0.6, 1.4)))
boundary(ax, a_damage, DAMAGE)
boundary(ax, a_contact, CONTACT)
for x, y, s in [(1.47, -22, '$N_0$'), (1.89, -20.7, '$N_1$'), (2.22, -3.7, '$N_2$'), (2.6, -19.5, '$N_3$'), (2.22, -14.7, '$N_4$'), (2.96, -10.9, '$N_5$'), (2.6, -8.3, '$N_6$')]:
    label(ax, x, y, s)

# panel b
ax = new_axes((688, 8, 1232, 459), (-30, 0), tl, '%d')
for runs, col in [(b_n1, N1), (b_n2, N2), (b_n0, N0), (b_n3, N3), (b_n4, N4), (b_n5, N5), (b_n6, N6)]:
    dots(ax, runs, col, by_x=False)
for col, xs, ys in b_curves:
    smooth(ax, xs, ys, col)
boundary(ax, b_damage, DAMAGE)
for x, y, s in [(-25.5, -28.5, '$N_0$'), (-20.5, -19.8, '$N_1$'), (-1.7, -22, '$N_2$'), (-19.1, -24.3, '$N_3$'), (-13, -22.3, '$N_4$'), (-4.8, -16, '$N_5$'), (-4.8, -18.5, '$N_6$')]:
    label(ax, x, y, s)

# panel c
ax = new_axes((57, 530, 600, 983), (-30, 0), tl, '%d')
for runs, col in [(c_n1, N1), (c_n2, N2), (c_n0, N0), (c_n4, N4), (c_n5, N5), (c_n6, N6)]:
    dots(ax, runs, col, by_x=False)
for col, xs, ys in c_curves:
    smooth(ax, xs, ys, col)
smooth(ax, c_dotted[0], c_dotted[1], L2, lw=1.6, ls=(0, (0.6, 1.4)))
for x, y, s in [(-15.6, -6.3, '$N_1$'), (-8, -26.8, '$N_2$'), (-1.5, -8.9, '$N_4$'), (-8.8, -4.2, '$N_5$'), (-0.9, -10.5, '$N_6$')]:
    label(ax, x, y, s)

# panel d
ax = new_axes((688, 530, 1232, 983), (1, 4), tx, '%.1f')
for runs, col in [(d_n1, N1), (d_n0, N0), (d_n2, N2), (d_n3, N3), (d_n5, N5)]:
    dots(ax, runs, col)
for col, xs, ys in d_curves:
    smooth(ax, xs, ys, col)
boundary(ax, d_damage, DAMAGE)
boundary(ax, d_contact, CONTACT)
for x, y, s in [(1.37, -23.2, '$N_0$'), (2.2, -22, '$N_1$'), (1.5, -6.4, '$N_2$'), (3.48, -28.1, '$N_3$'), (2.1, -11.2, '$N_5$')]:
    label(ax, x, y, s)

# free text
note(512, 21, '(Mode \u24d0)', 19)
note(768, 31, '(Mode \u24d1)', 19)
note(146, 585, '(Mode \u24d2)', 19)
note(954, 555, '(Mode \u24d3)', 19)
note(507, 124, 'Damage area')
note(1153, 79, 'Damage area')
note(1068, 690, 'Damage area')
note(768, 129, 'No sound')
note(155, 642, 'No sound')
note(82, 435, 'Out of contact')
note(720, 963, 'Out of contact')
note(356, 482, '$X_M$', 17)
note(48, 201, '$X_{L1}$', 17)
note(954, 484, '$X_{L1}$', 17)
note(651, 211, '$X_{L2}$', 17)
note(27, 729, '$X_{L2}$', 17)
note(341, 1000, '$X_{L1}$', 17)
note(995, 1000, '$X_M$', 17)
note(673, 775, '$X_{L1}$ (or $X_{L2}$)', 15, rotation=90)

fig.savefig('out.png', dpi=100)
